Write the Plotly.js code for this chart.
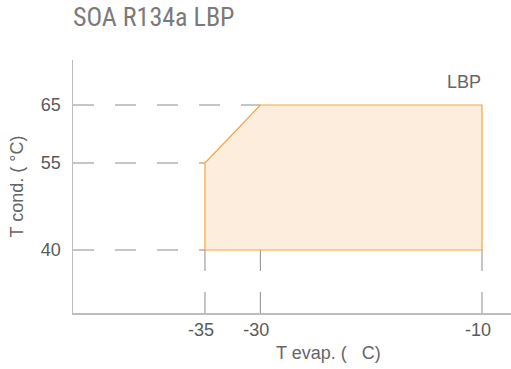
<!DOCTYPE html>
<html>
<head>
<meta charset="utf-8">
<script src="https://cdn.plot.ly/plotly-3.0.1.min.js"></script>
<style>
  html, body { margin: 0; padding: 0; background: #fff; }
  #chart { width: 511px; height: 369px; }
</style>
</head>
<body>
<div id="chart"></div>
<script>
// Operating envelope (evaporating vs condensing temperature), drawn clockwise
const envelopeEvap = [-35, -35, -30, -10, -10, -35];
const envelopeCond = [40, 55, 65, 65, 40, 40];

// Tick positions / labels
const evapTicks = [-35, -30, -10];
const condTicks = [40, 55, 65];

// Guide lines: condensing levels run from the axis to the envelope edge
const condGuideLevels = [65, 55, 40];
const condGuideEnds = [-30, -35, -35];
// Evaporating guides drop from the envelope floor to the axis
const evapGuideFloor = 40;

const guideColor = '#8c8c8c';
const guideDash = '21px,21px';

const xRange = [-46.91, -7.38];
const yRange = [29.14, 72.76];

const layout = {
  width: 511, height: 369,
  margin: { l: 73, r: 0, t: 60, b: 56 },
  paper_bgcolor: '#fff', plot_bgcolor: '#fff',
  showlegend: false,
  font: { family: 'Liberation Sans, Arial, sans-serif', color: '#666', size: 17 },
  title: {
    text: 'SOA R134a LBP',
    font: { family: 'Liberation Sans Narrow, Roboto Condensed, Roboto, sans-serif', size: 26, color: '#7a7a7a' },
    xref: 'paper', x: 0, xanchor: 'left',
    yref: 'container', y: 0.955, yanchor: 'middle'
  },
  xaxis: {
    range: xRange,
    tickvals: evapTicks, ticktext: evapTicks.map(String),
    showgrid: false, zeroline: false,
    showline: true, linecolor: '#bdbdbd', linewidth: 1.5,
    ticks: '',
    ticklabelshift: -4,
    tickfont: { size: 18, color: '#5a5a5a' },
    fixedrange: true
  },
  yaxis: {
    range: yRange,
    tickvals: condTicks, ticktext: condTicks.map(String),
    showgrid: false, zeroline: false,
    showline: true, linecolor: '#bdbdbd', linewidth: 1.5,
    ticks: 'outside', ticklen: 7, tickcolor: 'rgba(0,0,0,0)',
    tickfont: { size: 18, color: '#5a5a5a' },
    title: { text: 'T cond. ( °C)', font: { size: 18, color: '#666' }, standoff: 12 },
    fixedrange: true
  },
  shapes: [],
  annotations: [
    {
      text: 'LBP', xref: 'x', yref: 'y', x: -11.6, y: 68.9,
      showarrow: false, font: { size: 18, color: '#666' }
    },
    {
      text: 'T evap. (\u00a0\u00a0\u00a0C)', xref: 'paper', yref: 'paper',
      x: 0.583, y: -0.158, xanchor: 'center', yanchor: 'middle',
      showarrow: false, font: { size: 18, color: '#666' }
    }
  ]
};

// horizontal dashed guides, from the y axis to the envelope
condGuideLevels.forEach((lvl, i) => {
  layout.shapes.push({
    type: 'line', layer: 'below',
    xref: 'x', x0: xRange[0], x1: condGuideEnds[i],
    yref: 'y', y0: lvl, y1: lvl,
    line: { color: guideColor, width: 1, dash: guideDash }
  });
});
// vertical dashed guides, from the envelope floor down to the x axis
evapTicks.forEach(t => {
  layout.shapes.push({
    type: 'line', layer: 'below',
    xref: 'x', x0: t, x1: t,
    yref: 'y', y0: evapGuideFloor, y1: yRange[0],
    line: { color: guideColor, width: 1, dash: guideDash }
  });
});

const traces = [{
  type: 'scatter', mode: 'lines',
  x: envelopeEvap, y: envelopeCond,
  fill: 'toself', fillcolor: 'rgba(253, 237, 220, 1)',
  line: { color: '#f6a43a', width: 1.2 },
  hoverinfo: 'skip'
}];

Plotly.newPlot('chart', traces, layout, { displayModeBar: false, staticPlot: true });
</script>
</body>
</html>
